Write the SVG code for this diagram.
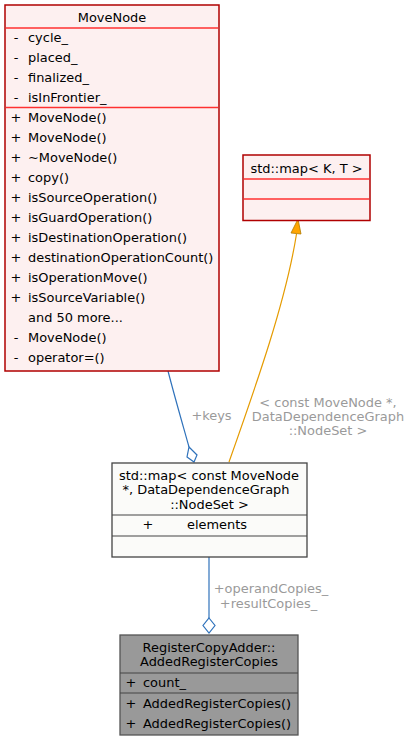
<svg xmlns="http://www.w3.org/2000/svg" width="411" height="740" viewBox="0 0 411 740">
<style>
text{font-family:"DejaVu Sans","Liberation Sans",sans-serif;font-size:12.95px;fill:#000}
.c{text-anchor:middle}
.lbl{fill:#9a9a9a;text-anchor:middle}
.red{fill:#fdf0f0;stroke:#b00000;stroke-width:1.5}
.rsep{stroke:#ff3030;stroke-width:1.3}
.gray{fill:#fbfbf9;stroke:#444;stroke-width:1.3}
.dark{fill:#999999;stroke:#555;stroke-width:1.3}
.gsep{stroke:#444;stroke-width:1.1}
.blue{fill:none;stroke:#2f72bb;stroke-width:1.2}
.orange{fill:none;stroke:#e59b00;stroke-width:1.2}
</style>
<g id="edges">
<path class="blue" d="M168,371 C175,398 182,422 189,447"/>
<polygon points="189,447 197,455 194,462 187,457" fill="#fff" stroke="#2f72bb" stroke-width="1.2"/>
<path class="orange" d="M296.5,234 C286,300 258,380 229,462"/>
<polygon points="298,219 291,233 301,234" fill="#ffa500" stroke="#b07a00" stroke-width="0.8"/>
<path class="blue" d="M209,557 L209,618"/>
<polygon points="209,618 215,625.5 209,633 203,625.5" fill="#fff" stroke="#2f72bb" stroke-width="1.2"/>
<text class="lbl" x="211.5" y="419.5">+keys</text>
<text class="lbl" x="328" y="406.5">&lt; const MoveNode *,</text>
<text class="lbl" x="328" y="420.5">DataDependenceGraph</text>
<text class="lbl" x="328" y="435">::NodeSet &gt;</text>
<text class="lbl" x="271" y="592.5">+operandCopies_</text>
<text class="lbl" x="268.5" y="607.5">+resultCopies_</text>
</g>
<g id="MoveNode">
<rect class="red" x="5" y="5" width="214" height="366"/>
<line class="rsep" x1="6" y1="28" x2="218" y2="28"/>
<line class="rsep" x1="6" y1="107.5" x2="218" y2="107.5"/>
<text class="c" x="112" y="21.5">MoveNode</text>
<text class="c" x="16" y="41.5">-</text>
<text class="c" x="16" y="61.5">-</text>
<text class="c" x="16" y="81.5">-</text>
<text class="c" x="16" y="101.5">-</text>
<text class="c" x="16" y="121.5">+</text>
<text class="c" x="16" y="141.5">+</text>
<text class="c" x="16" y="161.5">+</text>
<text class="c" x="16" y="181.5">+</text>
<text class="c" x="16" y="201.5">+</text>
<text class="c" x="16" y="221.5">+</text>
<text class="c" x="16" y="241.5">+</text>
<text class="c" x="16" y="261.5">+</text>
<text class="c" x="16" y="281.5">+</text>
<text class="c" x="16" y="301.5">+</text>
<text class="c" x="16" y="341.5">-</text>
<text class="c" x="16" y="361.5">-</text>
<text x="28" y="41.5">cycle_</text>
<text x="28" y="61.5">placed_</text>
<text x="28" y="81.5">finalized_</text>
<text x="28" y="101.5">isInFrontier_</text>
<text x="28" y="121.5">MoveNode()</text>
<text x="28" y="141.5">MoveNode()</text>
<text x="28" y="161.5">~MoveNode()</text>
<text x="28" y="181.5">copy()</text>
<text x="28" y="201.5">isSourceOperation()</text>
<text x="28" y="221.5">isGuardOperation()</text>
<text x="28" y="241.5">isDestinationOperation()</text>
<text x="28" y="261.5">destinationOperationCount()</text>
<text x="28" y="281.5">isOperationMove()</text>
<text x="28" y="301.5">isSourceVariable()</text>
<text x="28" y="321.5">and 50 more...</text>
<text x="28" y="341.5">MoveNode()</text>
<text x="28" y="361.5">operator=()</text>
</g>
<g id="StdMapKT">
<rect class="red" x="243" y="155" width="127" height="65.5"/>
<line class="rsep" x1="244" y1="179" x2="369" y2="179"/>
<line class="rsep" x1="244" y1="199" x2="369" y2="199"/>
<text class="c" x="306.5" y="172.5">std::map&lt; K, T &gt;</text>
</g>
<g id="StdMapMoveNode">
<rect class="gray" x="112" y="463" width="195" height="94"/>
<line class="gsep" x1="112" y1="515" x2="307" y2="515"/>
<line class="gsep" x1="112" y1="536" x2="307" y2="536"/>
<text class="c" x="209" y="479.5">std::map&lt; const MoveNode</text>
<text class="c" x="206" y="494">*, DataDependenceGraph</text>
<text class="c" x="209.5" y="508.5">::NodeSet &gt;</text>
<text class="c" x="148" y="528.5">+</text>
<text x="187" y="528.5">elements</text>
</g>
<g id="AddedRegisterCopies">
<rect class="dark" x="120" y="635" width="178" height="100"/>
<line class="gsep" x1="120" y1="673" x2="298" y2="673"/>
<line class="gsep" x1="120" y1="693" x2="298" y2="693"/>
<text class="c" x="209" y="651.5">RegisterCopyAdder::</text>
<text class="c" x="209" y="666">AddedRegisterCopies</text>
<text class="c" x="131" y="686.5">+</text>
<text x="143" y="686.5">count_</text>
<text class="c" x="131" y="707.5">+</text>
<text x="143" y="707.5">AddedRegisterCopies()</text>
<text class="c" x="131" y="727.5">+</text>
<text x="143" y="727.5">AddedRegisterCopies()</text>
</g>
</svg>
